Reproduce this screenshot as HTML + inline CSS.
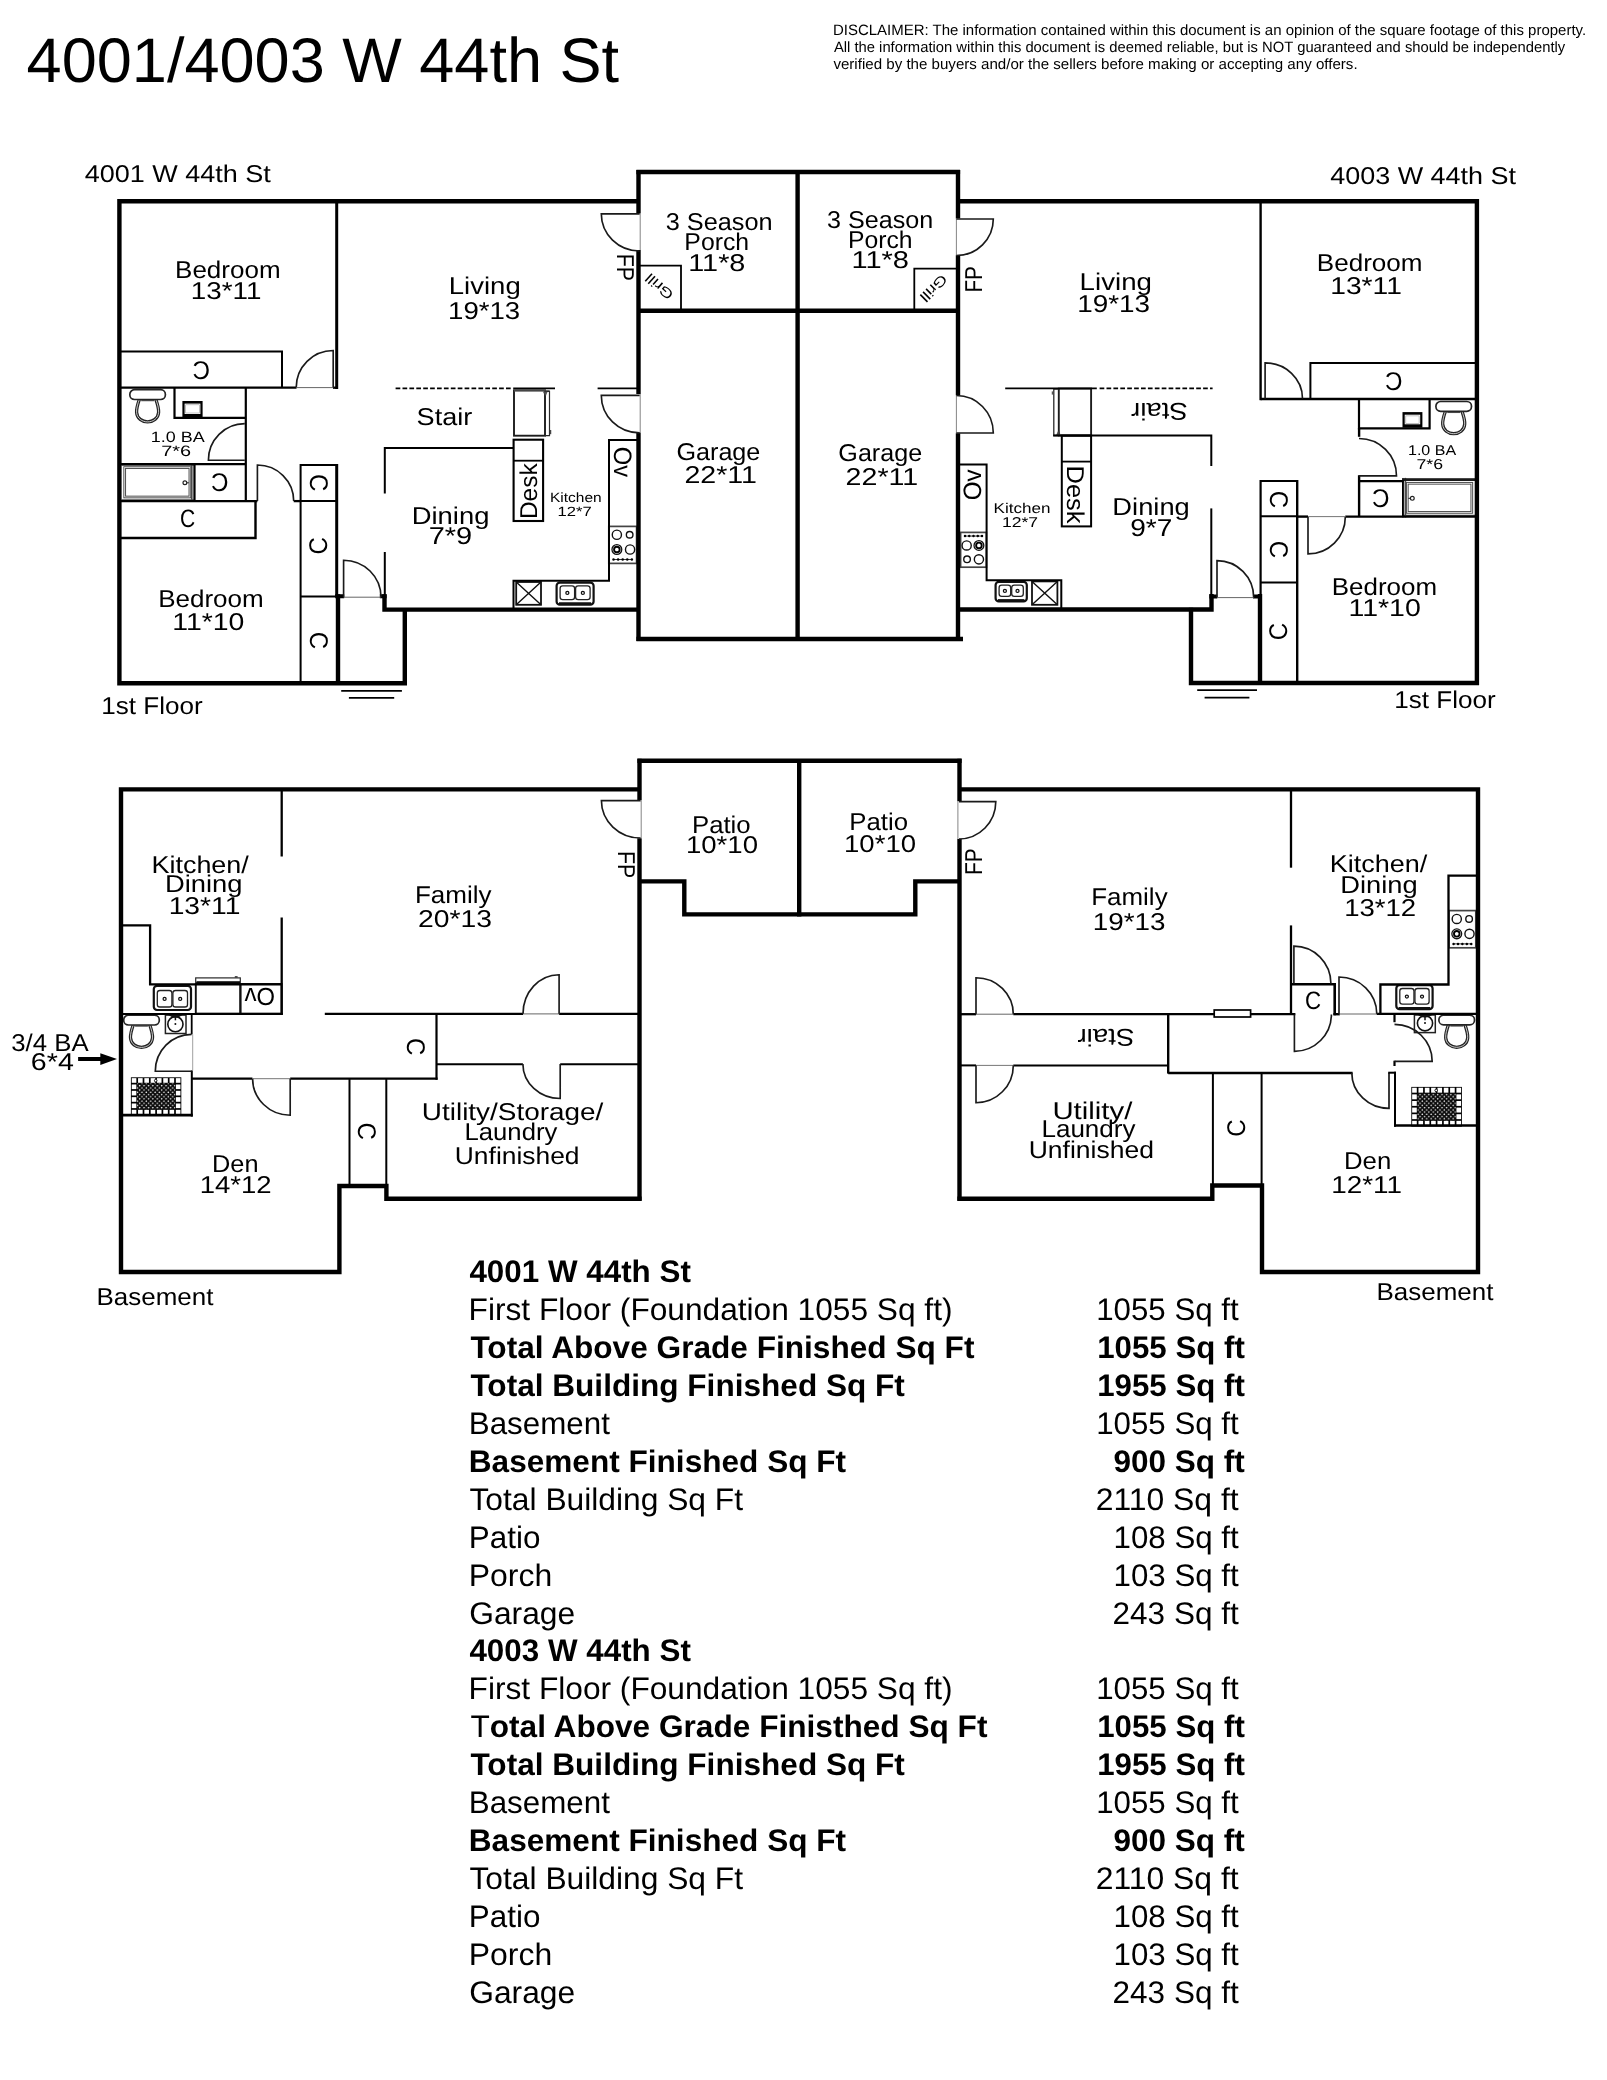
<!DOCTYPE html>
<html><head><meta charset="utf-8"><title>4001/4003 W 44th St</title>
<style>
html,body{margin:0;padding:0;background:#fff}
body{width:1607px;height:2080px;overflow:hidden;font-family:"Liberation Sans",sans-serif}
svg{display:block}
text{font-family:"Liberation Sans",sans-serif;text-rendering:geometricPrecision}
svg{will-change:transform}
</style></head><body>
<svg width="1607" height="2080" viewBox="0 0 1607 2080">
<rect width="1607" height="2080" fill="#fff"/>
<g font-family="'Liberation Sans', sans-serif" fill="#000">
<text transform="translate(26.60 82.2) scale(1.0010 1)" font-size="63">4001/4003 W 44th St</text>
<text transform="translate(832.90 34.6) scale(0.9989 1)" font-size="15">DISCLAIMER: The information contained within this document is an opinion of the square footage of this property.</text>
<text transform="translate(833.90 52.1) scale(0.9858 1)" font-size="15">All the information within this document is deemed reliable, but is NOT guaranteed and should be independently</text>
<text transform="translate(833.40 68.9) scale(1.0064 1)" font-size="15">verified by the buyers and/or the sellers before making or accepting any offers.</text>
<text transform="translate(469.40 1282.0) scale(1.0062 1)" font-size="31.2" font-weight="bold">4001 W 44th St</text>
<text transform="translate(468.57 1320.0) scale(1.0152 1)" font-size="31.2">First Floor (Foundation 1055 Sq ft)</text>
<text transform="translate(1096.20 1320.0) scale(1.0020 1)" font-size="31.2">1055 Sq ft</text>
<text transform="translate(470.40 1358.0) scale(1.0135 1)" font-size="31.2" font-weight="bold">Total Above Grade Finished Sq Ft</text>
<text transform="translate(1097.20 1358.0) scale(1.0017 1)" font-size="31.2" font-weight="bold">1055 Sq ft</text>
<text transform="translate(470.40 1395.9) scale(1.0126 1)" font-size="31.2" font-weight="bold">Total Building Finished Sq Ft</text>
<text transform="translate(1097.20 1395.9) scale(1.0017 1)" font-size="31.2" font-weight="bold">1955 Sq ft</text>
<text transform="translate(468.79 1433.9) scale(1.0046 1)" font-size="31.2">Basement</text>
<text transform="translate(1096.20 1433.9) scale(1.0020 1)" font-size="31.2">1055 Sq ft</text>
<text transform="translate(468.77 1471.9) scale(1.0127 1)" font-size="31.2" font-weight="bold">Basement Finished Sq Ft</text>
<text transform="translate(1113.39 1471.9) scale(1.0109 1)" font-size="31.2" font-weight="bold">900 Sq ft</text>
<text transform="translate(469.50 1509.9) scale(1.0181 1)" font-size="31.2">Total Building Sq Ft</text>
<text transform="translate(1095.68 1509.9) scale(1.0222 1)" font-size="31.2">2110 Sq ft</text>
<text transform="translate(468.79 1547.9) scale(1.0067 1)" font-size="31.2">Patio</text>
<text transform="translate(1113.60 1547.9) scale(1.0018 1)" font-size="31.2">108 Sq ft</text>
<text transform="translate(468.75 1585.8) scale(1.0240 1)" font-size="31.2">Porch</text>
<text transform="translate(1113.60 1585.8) scale(1.0018 1)" font-size="31.2">103 Sq ft</text>
<text transform="translate(469.18 1623.8) scale(1.0189 1)" font-size="31.2">Garage</text>
<text transform="translate(1112.59 1623.8) scale(1.0099 1)" font-size="31.2">243 Sq ft</text>
<text transform="translate(469.40 1661.2) scale(1.0062 1)" font-size="31.2" font-weight="bold">4003 W 44th St</text>
<text transform="translate(468.57 1699.2) scale(1.0152 1)" font-size="31.2">First Floor (Foundation 1055 Sq ft)</text>
<text transform="translate(1096.20 1699.2) scale(1.0020 1)" font-size="31.2">1055 Sq ft</text>
<text transform="translate(470.40 1737.2) scale(1.0138 1)" font-size="31.2" font-weight="bold"><tspan font-weight="normal">T</tspan>otal Above Grade Finisthed Sq Ft</text>
<text transform="translate(1097.20 1737.2) scale(1.0017 1)" font-size="31.2" font-weight="bold">1055 Sq ft</text>
<text transform="translate(470.40 1775.1) scale(1.0126 1)" font-size="31.2" font-weight="bold">Total Building Finished Sq Ft</text>
<text transform="translate(1097.20 1775.1) scale(1.0017 1)" font-size="31.2" font-weight="bold">1955 Sq ft</text>
<text transform="translate(468.79 1813.1) scale(1.0046 1)" font-size="31.2">Basement</text>
<text transform="translate(1096.20 1813.1) scale(1.0020 1)" font-size="31.2">1055 Sq ft</text>
<text transform="translate(468.77 1851.1) scale(1.0127 1)" font-size="31.2" font-weight="bold">Basement Finished Sq Ft</text>
<text transform="translate(1113.39 1851.1) scale(1.0109 1)" font-size="31.2" font-weight="bold">900 Sq ft</text>
<text transform="translate(469.50 1889.1) scale(1.0181 1)" font-size="31.2">Total Building Sq Ft</text>
<text transform="translate(1095.68 1889.1) scale(1.0222 1)" font-size="31.2">2110 Sq ft</text>
<text transform="translate(468.79 1927.1) scale(1.0067 1)" font-size="31.2">Patio</text>
<text transform="translate(1113.60 1927.1) scale(1.0018 1)" font-size="31.2">108 Sq ft</text>
<text transform="translate(468.75 1965.0) scale(1.0240 1)" font-size="31.2">Porch</text>
<text transform="translate(1113.60 1965.0) scale(1.0018 1)" font-size="31.2">103 Sq ft</text>
<text transform="translate(469.18 2003.0) scale(1.0189 1)" font-size="31.2">Garage</text>
<text transform="translate(1112.59 2003.0) scale(1.0099 1)" font-size="31.2">243 Sq ft</text>
</g>
<g font-family="'Liberation Sans', sans-serif" fill="#000" id="lbl">
<text transform="translate(84.70 182.4) scale(1.1113 1)" font-size="24.3">4001 W 44th St</text>
<text transform="translate(1330.20 184.3) scale(1.1095 1)" font-size="24.3">4003 W 44th St</text>
<text transform="translate(101.33 714.1) scale(1.0725 1)" font-size="24.3">1st Floor</text>
<text transform="translate(1394.23 707.5) scale(1.0725 1)" font-size="24.3">1st Floor</text>
<text transform="translate(96.56 1304.5) scale(1.0683 1)" font-size="24.3">Basement</text>
<text transform="translate(1376.56 1300.2) scale(1.0683 1)" font-size="24.3">Basement</text>
<text transform="translate(175.06 277.7) scale(1.0698 1)" font-size="24.3">Bedroom</text>
<text transform="translate(190.86 299.1) scale(1.1447 1)" font-size="24.3">13*11</text>
<text transform="translate(448.73 294.0) scale(1.1339 1)" font-size="24.3">Living</text>
<text transform="translate(448.06 318.5) scale(1.1356 1)" font-size="24.3">19*13</text>
<text transform="translate(665.70 230.3) scale(1.0410 1)" font-size="24.3">3 Season</text>
<text transform="translate(684.36 250.2) scale(1.0207 1)" font-size="24.3">Porch</text>
<text transform="translate(688.21 271.3) scale(1.1869 1)" font-size="24.3">11*8</text>
<text transform="translate(416.59 424.8) scale(1.1132 1)" font-size="24.3">Stair</text>
<text transform="translate(411.75 524.3) scale(1.1275 1)" font-size="24.3">Dining</text>
<text transform="translate(428.71 544.4) scale(1.1925 1)" font-size="24.3">7*9</text>
<text transform="translate(158.16 607.1) scale(1.0708 1)" font-size="24.3">Bedroom</text>
<text transform="translate(172.23 629.5) scale(1.1696 1)" font-size="24.3">11*10</text>
<text transform="translate(676.47 460.0) scale(1.0349 1)" font-size="24.3">Garage</text>
<text transform="translate(684.42 483.0) scale(1.1763 1)" font-size="24.3">22*11</text>
<text transform="translate(550.04 502.1) scale(1.1570 1)" font-size="13.4">Kitchen</text>
<text transform="translate(557.56 516.1) scale(1.2411 1)" font-size="13.4">12*7</text>
<text transform="translate(150.70 442.1) scale(1.1971 1)" font-size="15">1.0 BA</text>
<text transform="translate(161.20 456.1) scale(1.3255 1)" font-size="15">7*6</text>
<text transform="translate(179.96 527.3) scale(0.8353 1)" font-size="25.2">C</text>
<text transform="translate(827.00 227.6) scale(1.0340 1)" font-size="24.3">3 Season</text>
<text transform="translate(847.97 247.5) scale(1.0174 1)" font-size="24.3">Porch</text>
<text transform="translate(851.40 268.0) scale(1.1954 1)" font-size="24.3">11*8</text>
<text transform="translate(1079.62 290.4) scale(1.1389 1)" font-size="24.3">Living</text>
<text transform="translate(1077.15 312.0) scale(1.1469 1)" font-size="24.3">19*13</text>
<text transform="translate(1316.86 271.4) scale(1.0719 1)" font-size="24.3">Bedroom</text>
<text transform="translate(1330.24 293.5) scale(1.1613 1)" font-size="24.3">13*11</text>
<text transform="translate(838.37 461.3) scale(1.0336 1)" font-size="24.3">Garage</text>
<text transform="translate(845.62 485.2) scale(1.1763 1)" font-size="24.3">22*11</text>
<text transform="translate(993.60 512.9) scale(1.2018 1)" font-size="14.2">Kitchen</text>
<text transform="translate(1001.96 527.3) scale(1.2367 1)" font-size="14.2">12*7</text>
<text transform="translate(1112.35 514.6) scale(1.1244 1)" font-size="24.3">Dining</text>
<text transform="translate(1130.24 535.8) scale(1.1553 1)" font-size="24.3">9*7</text>
<text transform="translate(1407.97 455.3) scale(1.1299 1)" font-size="14.2">1.0 BA</text>
<text transform="translate(1416.50 468.9) scale(1.2470 1)" font-size="14.2">7*6</text>
<text transform="translate(1331.76 594.8) scale(1.0677 1)" font-size="24.3">Bedroom</text>
<text transform="translate(1348.43 615.8) scale(1.1729 1)" font-size="24.3">11*10</text>
<text transform="translate(151.48 873.0) scale(1.1088 1)" font-size="24.3">Kitchen/</text>
<text transform="translate(164.95 892.3) scale(1.1259 1)" font-size="24.3">Dining</text>
<text transform="translate(168.64 914.1) scale(1.1630 1)" font-size="24.3">13*11</text>
<text transform="translate(414.96 902.9) scale(1.0712 1)" font-size="24.3">Family</text>
<text transform="translate(417.94 926.5) scale(1.1646 1)" font-size="24.3">20*13</text>
<text transform="translate(691.98 832.6) scale(1.0593 1)" font-size="24.3">Patio</text>
<text transform="translate(685.97 853.3) scale(1.1340 1)" font-size="24.3">10*10</text>
<text transform="translate(849.28 829.6) scale(1.0593 1)" font-size="24.3">Patio</text>
<text transform="translate(844.07 852) scale(1.1324 1)" font-size="24.3">10*10</text>
<text transform="translate(11.30 1050.9) scale(1.0592 1)" font-size="24.3">3/4 BA</text>
<text transform="translate(30.82 1070.2) scale(1.1782 1)" font-size="24.3">6*4</text>
<text transform="translate(212.02 1171.8) scale(1.0424 1)" font-size="24.3">Den</text>
<text transform="translate(199.67 1192.9) scale(1.1324 1)" font-size="24.3">14*12</text>
<text transform="translate(421.85 1119.9) scale(1.1486 1)" font-size="24.3">Utility/Storage/</text>
<text transform="translate(464.49 1140.0) scale(1.0571 1)" font-size="24.3">Laundry</text>
<text transform="translate(454.81 1163.5) scale(1.0864 1)" font-size="24.3">Unfinished</text>
<text transform="translate(1091.27 905.0) scale(1.0669 1)" font-size="24.3">Family</text>
<text transform="translate(1092.75 929.6) scale(1.1453 1)" font-size="24.3">19*13</text>
<text transform="translate(1329.78 872.2) scale(1.1111 1)" font-size="24.3">Kitchen/</text>
<text transform="translate(1340.25 893.0) scale(1.1244 1)" font-size="24.3">Dining</text>
<text transform="translate(1344.17 916.2) scale(1.1340 1)" font-size="24.3">13*12</text>
<text transform="translate(1052.39 1118.5) scale(1.2081 1)" font-size="24.3">Utility/</text>
<text transform="translate(1041.46 1137.4) scale(1.0709 1)" font-size="24.3">Laundry</text>
<text transform="translate(1028.71 1158.4) scale(1.0909 1)" font-size="24.3">Unfinished</text>
<text transform="translate(1343.98 1169.2) scale(1.0594 1)" font-size="24.3">Den</text>
<text transform="translate(1331.25 1193.0) scale(1.1464 1)" font-size="24.3">12*11</text>
<text transform="translate(1304.92 1008.8) scale(0.8824 1)" font-size="25.2">C</text>
<text transform="translate(616.60 253.66) rotate(90) scale(0.8710 1)" font-size="24.4">FP</text>
<text transform="translate(981.50 292.60) rotate(-90) scale(0.8495 1)" font-size="24.4">FP</text>
<text transform="translate(617.50 851.05) rotate(90) scale(0.8746 1)" font-size="24.4">FP</text>
<text transform="translate(981.50 875.01) rotate(-90) scale(0.8531 1)" font-size="24.4">FP</text>
<text transform="translate(537.10 519.11) rotate(-90) scale(1.0072 1)" font-size="24.3">Desk</text>
<text transform="translate(1067.00 465.50) rotate(90) scale(1.0478 1)" font-size="24.3">Desk</text>
<text transform="translate(614.00 446.76) rotate(90) scale(0.9433 1)" font-size="25.2">Ov</text>
<text transform="translate(980.80 500.26) rotate(-90) scale(0.9591 1)" font-size="25.2">Ov</text>
<text transform="translate(274.97 988.40) rotate(180) scale(0.9701 1)" font-size="24.6">Ov</text>
<text transform="translate(1187.84 403.40) rotate(180) scale(1.1357 1)" font-size="24.3">Stair</text>
<text transform="translate(1134.44 1029.20) rotate(180) scale(1.1398 1)" font-size="24.3">Stair</text>
<text transform="translate(658.9 287.1) rotate(-138.4) translate(-16.00 5.50) scale(1.2918 1)" font-size="14">Grill</text>
<text transform="translate(934.2 288.6) rotate(135) translate(-16.00 5.50) scale(1.2918 1)" font-size="14">Grill</text>
<text transform="translate(219.8 482.2) rotate(0) scale(-0.94 1)" x="-9.3" y="8.9" font-size="25.6">C</text>
<text transform="translate(201.3 369.6) rotate(0) scale(-0.94 1)" x="-9.3" y="8.9" font-size="25.6">C</text>
<text transform="translate(318.5 482.8) rotate(90) scale(0.94 1)" x="-9.3" y="8.9" font-size="25.6">C</text>
<text transform="translate(318.5 545.8) rotate(-90) scale(0.94 1)" x="-9.3" y="8.9" font-size="25.6">C</text>
<text transform="translate(318.5 640.4) rotate(90) scale(0.94 1)" x="-9.3" y="8.9" font-size="25.6">C</text>
<text transform="translate(1393.8 381) rotate(0) scale(-0.94 1)" x="-9.3" y="8.9" font-size="25.6">C</text>
<text transform="translate(1380.8 497.9) rotate(0) scale(-0.94 1)" x="-9.3" y="8.9" font-size="25.6">C</text>
<text transform="translate(1278.5 499.6) rotate(90) scale(0.94 1)" x="-9.3" y="8.9" font-size="25.6">C</text>
<text transform="translate(1278.5 549.4) rotate(90) scale(0.94 1)" x="-9.3" y="8.9" font-size="25.6">C</text>
<text transform="translate(1278.5 631.6) rotate(-90) scale(0.94 1)" x="-9.3" y="8.9" font-size="25.6">C</text>
<text transform="translate(415.8 1046.7) rotate(90) scale(0.94 1)" x="-9.3" y="8.9" font-size="25.6">C</text>
<text transform="translate(366.6 1131.3) rotate(90) scale(0.94 1)" x="-9.3" y="8.9" font-size="25.6">C</text>
<text transform="translate(1236.3 1128.1) rotate(-90) scale(0.94 1)" x="-9.3" y="8.9" font-size="25.6">C</text>
</g>
<g id="fx">
<g transform="translate(147.6 388.8)">
<path d="M-8.2 10.4C-9.8 15 -11.3 19.5 -11 23.6C-10.6 29.6 -5.4 33.1 0 33.1C5.4 33.1 10.6 29.6 11 23.6C11.3 19.5 9.8 15 8.2 10.4" stroke="#242424" stroke-width="3.3" fill="#fff"/>
<path d="M-8.2 10.4C-9.8 15 -11.3 19.5 -11 23.6C-10.6 29.6 -5.4 33.1 0 33.1C5.4 33.1 10.6 29.6 11 23.6C11.3 19.5 9.8 15 8.2 10.4" stroke="#fff" stroke-width="0.75" fill="none"/>
<path d="M-6.4 11.7H6.4" stroke="#555" stroke-width="1.5"/>
<rect x="-17.8" y="0.9" width="35.6" height="9.8" rx="4.7" stroke="#242424" stroke-width="1.7" fill="#fff"/>
</g>
<g transform="translate(1453.7 400.6)">
<path d="M-8.2 10.4C-9.8 15 -11.3 19.5 -11 23.6C-10.6 29.6 -5.4 33.1 0 33.1C5.4 33.1 10.6 29.6 11 23.6C11.3 19.5 9.8 15 8.2 10.4" stroke="#242424" stroke-width="3.3" fill="#fff"/>
<path d="M-8.2 10.4C-9.8 15 -11.3 19.5 -11 23.6C-10.6 29.6 -5.4 33.1 0 33.1C5.4 33.1 10.6 29.6 11 23.6C11.3 19.5 9.8 15 8.2 10.4" stroke="#fff" stroke-width="0.75" fill="none"/>
<path d="M-6.4 11.7H6.4" stroke="#555" stroke-width="1.5"/>
<rect x="-17.8" y="0.9" width="35.6" height="9.8" rx="4.7" stroke="#242424" stroke-width="1.7" fill="#fff"/>
</g>
<g transform="translate(141.5 1014.3)">
<path d="M-8.2 10.4C-9.8 15 -11.3 19.5 -11 23.6C-10.6 29.6 -5.4 33.1 0 33.1C5.4 33.1 10.6 29.6 11 23.6C11.3 19.5 9.8 15 8.2 10.4" stroke="#242424" stroke-width="3.3" fill="#fff"/>
<path d="M-8.2 10.4C-9.8 15 -11.3 19.5 -11 23.6C-10.6 29.6 -5.4 33.1 0 33.1C5.4 33.1 10.6 29.6 11 23.6C11.3 19.5 9.8 15 8.2 10.4" stroke="#fff" stroke-width="0.75" fill="none"/>
<path d="M-6.4 11.7H6.4" stroke="#555" stroke-width="1.5"/>
<rect x="-17.8" y="0.9" width="35.6" height="9.8" rx="4.7" stroke="#242424" stroke-width="1.7" fill="#fff"/>
</g>
<g transform="translate(1456.7 1014.2)">
<path d="M-8.2 10.4C-9.8 15 -11.3 19.5 -11 23.6C-10.6 29.6 -5.4 33.1 0 33.1C5.4 33.1 10.6 29.6 11 23.6C11.3 19.5 9.8 15 8.2 10.4" stroke="#242424" stroke-width="3.3" fill="#fff"/>
<path d="M-8.2 10.4C-9.8 15 -11.3 19.5 -11 23.6C-10.6 29.6 -5.4 33.1 0 33.1C5.4 33.1 10.6 29.6 11 23.6C11.3 19.5 9.8 15 8.2 10.4" stroke="#fff" stroke-width="0.75" fill="none"/>
<path d="M-6.4 11.7H6.4" stroke="#555" stroke-width="1.5"/>
<rect x="-17.8" y="0.9" width="35.6" height="9.8" rx="4.7" stroke="#242424" stroke-width="1.7" fill="#fff"/>
</g>
<rect x="182.4" y="401" width="20.2" height="16.4" rx="0" stroke="#000" stroke-width="0" fill="#000"/>
<rect x="184.6" y="403.6" width="15.8" height="10.4" rx="0" stroke="#000" stroke-width="0" fill="#fff"/>
<rect x="185.70000000000002" y="404.8" width="13.6" height="8.2" rx="0" stroke="#999" stroke-width="0.6" fill="none"/>
<rect x="1402.5" y="412.1" width="19.9" height="15.6" rx="0" stroke="#000" stroke-width="0" fill="#000"/>
<rect x="1404.7" y="414.70000000000005" width="15.5" height="9.6" rx="0" stroke="#000" stroke-width="0" fill="#fff"/>
<rect x="1405.8" y="415.90000000000003" width="13.3" height="7.4" rx="0" stroke="#999" stroke-width="0.6" fill="none"/>
<rect x="121.5" y="463.4" width="73.5" height="38.6" rx="0" stroke="#000" stroke-width="0" fill="#fff"/>
<rect x="191.1" y="463.4" width="3.9" height="38.6" rx="0" stroke="#000" stroke-width="0" fill="#c4c4c4"/>
<path d="M191.7 463.4L191.7 502" stroke="#4d4d4d" stroke-width="1.4" fill="none" />
<path d="M194.3 463.4L194.3 502" stroke="#4d4d4d" stroke-width="1.4" fill="none" />
<path d="M121.5 465.0L195.0 465.0" stroke="#4d4d4d" stroke-width="1.6" fill="none" />
<path d="M121.5 500.1L195.0 500.1" stroke="#4d4d4d" stroke-width="1.6" fill="none" />
<rect x="124.7" y="467.59999999999997" width="65.2" height="29.4" rx="0" stroke="#4d4d4d" stroke-width="2.7" fill="#fff"/>
<rect x="124.7" y="467.59999999999997" width="65.2" height="29.4" rx="0" stroke="#fff" stroke-width="0.7" fill="none"/>
<circle cx="184.9" cy="482.79999999999995" r="1.9" stroke="#222" stroke-width="1.2" fill="#fff"/>
<path d="M186.8 482.79999999999995L188.9 482.79999999999995" stroke="#222" stroke-width="1" fill="none" />
<rect x="1402.2" y="477.9" width="72.8" height="39.5" rx="0" stroke="#000" stroke-width="0" fill="#fff"/>
<rect x="1402.2" y="477.9" width="3.9" height="39.5" rx="0" stroke="#000" stroke-width="0" fill="#c4c4c4"/>
<path d="M1405.5 477.9L1405.5 517.4" stroke="#4d4d4d" stroke-width="1.4" fill="none" />
<path d="M1402.9 477.9L1402.9 517.4" stroke="#4d4d4d" stroke-width="1.4" fill="none" />
<path d="M1402.2 479.5L1475 479.5" stroke="#4d4d4d" stroke-width="1.6" fill="none" />
<path d="M1402.2 515.5L1475 515.5" stroke="#4d4d4d" stroke-width="1.6" fill="none" />
<rect x="1407.3" y="483.3" width="64.5" height="29.1" rx="0" stroke="#4d4d4d" stroke-width="2.7" fill="#fff"/>
<rect x="1407.3" y="483.3" width="64.5" height="29.1" rx="0" stroke="#fff" stroke-width="0.7" fill="none"/>
<circle cx="1412.3" cy="498.35" r="1.9" stroke="#222" stroke-width="1.2" fill="#fff"/>
<path d="M1410.3999999999999 498.35L1408.3 498.35" stroke="#222" stroke-width="1" fill="none" />
<path d="M1402.2 479.6L1475 479.6" stroke="#1a1a1a" stroke-width="2.6" fill="none" />
<rect x="608.8" y="526.4" width="27.8" height="37.0" rx="0" stroke="#444" stroke-width="1.7" fill="#fff"/>
<circle cx="616.86" cy="534.73" r="4.6" stroke="#111" stroke-width="1.4" fill="none"/>
<circle cx="629.65" cy="534.73" r="3.3" stroke="#111" stroke-width="1.4" fill="none"/>
<circle cx="616.86" cy="549.52" r="4.9" stroke="#111" stroke-width="1.3" fill="none"/>
<circle cx="616.86" cy="549.52" r="2.8" stroke="#000" stroke-width="1.9" fill="none"/>
<circle cx="630.07" cy="549.52" r="4.6" stroke="#111" stroke-width="1.4" fill="none"/>
<path d="M613.53 559.51L631.87 559.51" stroke="#222" stroke-width="0.9" fill="none" />
<circle cx="613.53" cy="559.51" r="1.25" stroke="#000" stroke-width="0" fill="#000"/>
<circle cx="618.12" cy="559.51" r="1.25" stroke="#000" stroke-width="0" fill="#000"/>
<circle cx="622.7" cy="559.51" r="1.25" stroke="#000" stroke-width="0" fill="#000"/>
<circle cx="627.28" cy="559.51" r="1.25" stroke="#000" stroke-width="0" fill="#000"/>
<circle cx="631.87" cy="559.51" r="1.25" stroke="#000" stroke-width="0" fill="#000"/>
<rect x="960.6" y="532.4" width="25.8" height="34.8" rx="0" stroke="#444" stroke-width="1.7" fill="#fff"/>
<circle cx="978.92" cy="559.37" r="4.6" stroke="#111" stroke-width="1.4" fill="none"/>
<circle cx="967.05" cy="559.37" r="3.3" stroke="#111" stroke-width="1.4" fill="none"/>
<circle cx="978.92" cy="545.45" r="4.9" stroke="#111" stroke-width="1.3" fill="none"/>
<circle cx="978.92" cy="545.45" r="2.8" stroke="#000" stroke-width="1.9" fill="none"/>
<circle cx="966.66" cy="545.45" r="4.6" stroke="#111" stroke-width="1.4" fill="none"/>
<path d="M982.01 536.05L964.99 536.05" stroke="#222" stroke-width="0.9" fill="none" />
<circle cx="982.01" cy="536.05" r="1.25" stroke="#000" stroke-width="0" fill="#000"/>
<circle cx="977.75" cy="536.05" r="1.25" stroke="#000" stroke-width="0" fill="#000"/>
<circle cx="973.5" cy="536.05" r="1.25" stroke="#000" stroke-width="0" fill="#000"/>
<circle cx="969.25" cy="536.05" r="1.25" stroke="#000" stroke-width="0" fill="#000"/>
<circle cx="964.99" cy="536.05" r="1.25" stroke="#000" stroke-width="0" fill="#000"/>
<rect x="1449" y="910.6" width="26.8" height="37.2" rx="0" stroke="#444" stroke-width="1.7" fill="#fff"/>
<circle cx="1456.77" cy="918.97" r="4.6" stroke="#111" stroke-width="1.4" fill="none"/>
<circle cx="1469.1" cy="918.97" r="3.3" stroke="#111" stroke-width="1.4" fill="none"/>
<circle cx="1456.77" cy="933.85" r="4.9" stroke="#111" stroke-width="1.3" fill="none"/>
<circle cx="1456.77" cy="933.85" r="2.8" stroke="#000" stroke-width="1.9" fill="none"/>
<circle cx="1469.5" cy="933.85" r="4.6" stroke="#111" stroke-width="1.4" fill="none"/>
<path d="M1453.56 943.89L1471.24 943.89" stroke="#222" stroke-width="0.9" fill="none" />
<circle cx="1453.56" cy="943.89" r="1.25" stroke="#000" stroke-width="0" fill="#000"/>
<circle cx="1457.98" cy="943.89" r="1.25" stroke="#000" stroke-width="0" fill="#000"/>
<circle cx="1462.4" cy="943.89" r="1.25" stroke="#000" stroke-width="0" fill="#000"/>
<circle cx="1466.82" cy="943.89" r="1.25" stroke="#000" stroke-width="0" fill="#000"/>
<circle cx="1471.24" cy="943.89" r="1.25" stroke="#000" stroke-width="0" fill="#000"/>
<rect x="556.6" y="582.6" width="37.0" height="22.0" rx="3.2" stroke="#111" stroke-width="2.2" fill="#fff"/>
<path d="M559.0 603.3000000000001L591.2 603.3000000000001" stroke="#111" stroke-width="2.0" fill="none" />
<rect x="560.1" y="585.9" width="14.5" height="13.7" rx="2.6" stroke="#222" stroke-width="1.3" fill="none"/>
<rect x="575.6" y="585.9" width="14.5" height="13.7" rx="2.6" stroke="#222" stroke-width="1.3" fill="none"/>
<circle cx="567.35" cy="592.95" r="1.5" stroke="#111" stroke-width="1.3" fill="none"/>
<circle cx="582.85" cy="592.95" r="1.5" stroke="#111" stroke-width="1.3" fill="none"/>
<rect x="995.6" y="581.8" width="31.2" height="19.6" rx="3.2" stroke="#111" stroke-width="2.2" fill="#fff"/>
<path d="M998.0 600.1L1024.3999999999999 600.1" stroke="#111" stroke-width="2.0" fill="none" />
<rect x="999.1" y="585.0999999999999" width="11.6" height="11.3" rx="2.6" stroke="#222" stroke-width="1.3" fill="none"/>
<rect x="1011.7" y="585.0999999999999" width="11.6" height="11.3" rx="2.6" stroke="#222" stroke-width="1.3" fill="none"/>
<circle cx="1004.9" cy="590.95" r="1.5" stroke="#111" stroke-width="1.3" fill="none"/>
<circle cx="1017.5" cy="590.95" r="1.5" stroke="#111" stroke-width="1.3" fill="none"/>
<rect x="153.8" y="985.8" width="37.2" height="24.2" rx="3.2" stroke="#111" stroke-width="2.2" fill="#fff"/>
<rect x="157.3" y="990.5" width="14.6" height="16.5" rx="2.6" stroke="#222" stroke-width="1.3" fill="none"/>
<rect x="172.9" y="990.5" width="14.6" height="16.5" rx="2.6" stroke="#222" stroke-width="1.3" fill="none"/>
<circle cx="164.60000000000002" cy="998.95" r="1.5" stroke="#111" stroke-width="1.3" fill="none"/>
<circle cx="180.2" cy="998.95" r="1.5" stroke="#111" stroke-width="1.3" fill="none"/>
<rect x="1396.3" y="985.2" width="36.3" height="24.0" rx="3.2" stroke="#111" stroke-width="2.2" fill="#fff"/>
<path d="M1398.7 1007.9000000000001L1430.1999999999998 1007.9000000000001" stroke="#111" stroke-width="2.0" fill="none" />
<rect x="1399.8" y="988.5" width="14.15" height="15.7" rx="2.6" stroke="#222" stroke-width="1.3" fill="none"/>
<rect x="1414.9499999999998" y="988.5" width="14.15" height="15.7" rx="2.6" stroke="#222" stroke-width="1.3" fill="none"/>
<circle cx="1406.875" cy="996.5500000000001" r="1.5" stroke="#111" stroke-width="1.3" fill="none"/>
<circle cx="1422.0249999999999" cy="996.5500000000001" r="1.5" stroke="#111" stroke-width="1.3" fill="none"/>
<rect x="516.2" y="582" width="24.8" height="22.8" rx="0" stroke="#111" stroke-width="1.8" fill="#fff"/>
<path d="M516.2 582L541 604.8M541 582L516.2 604.8" stroke="#111" stroke-width="1.4" fill="none" />
<rect x="1032" y="581.4" width="25.4" height="23.4" rx="0" stroke="#111" stroke-width="1.8" fill="#fff"/>
<path d="M1032 581.4L1057.4 604.8M1057.4 581.4L1032 604.8" stroke="#111" stroke-width="1.4" fill="none" />
<rect x="514" y="390.3" width="31" height="45.4" rx="0" stroke="#1c1c1c" stroke-width="1.9" fill="#fff"/>
<path d="M514 390.9L549.6 390.9" stroke="#555" stroke-width="1.4" fill="none" />
<path d="M545 391.4H549.5V435.7H545" stroke="#2a2a2a" stroke-width="1.2" fill="none" />
<path d="M543.4 391.8H547.2L545.4 396.2Z" stroke="#333" stroke-width="0.5" fill="#555" />
<path d="M550.5 430L550.5 434.2" stroke="#444" stroke-width="1.5" fill="none" />
<rect x="1058.8" y="388.6" width="32.3" height="46.9" rx="0" stroke="#1c1c1c" stroke-width="1.9" fill="#fff"/>
<path d="M1058.8 389.2H1053.8V435.5H1058.8" stroke="#2a2a2a" stroke-width="1.3" fill="none" />
<path d="M1056.6 435H1060.2L1058.6 430.6Z" stroke="#333" stroke-width="0.5" fill="#444" />
<path d="M1052.4 391.4L1052.4 394.6" stroke="#555" stroke-width="1.3" fill="none" />
<rect x="195.8" y="984" width="44.6" height="29.6" rx="0" stroke="#111" stroke-width="1.9" fill="#fff"/>
<rect x="240.4" y="984" width="41.2" height="29.6" rx="0" stroke="#111" stroke-width="1.9" fill="none"/>
<rect x="195.7" y="977.9" width="44.6" height="4.5" rx="0" stroke="#2a2a2a" stroke-width="1.2" fill="#fff"/>
<path d="M196.6 983L240 983" stroke="#0a0a0a" stroke-width="3.4" fill="none" />
<path d="M234.8 976.9L237.6 976.9" stroke="#333" stroke-width="1.5" fill="none" />
<rect x="165.4" y="1015.1" width="20.6" height="18.4" rx="0" stroke="#222" stroke-width="1.5" fill="#fff"/>
<circle cx="175.4" cy="1024.2" r="7.6" stroke="#111" stroke-width="1.6" fill="#fff"/>
<path d="M168.20000000000002 1015.1Q175.4 1020.3000000000001 182.6 1015.1Z" stroke="#000" stroke-width="0" fill="#111" />
<path d="M175.4 1017.1L175.4 1020.3000000000001" stroke="#111" stroke-width="1.5" fill="none" />
<circle cx="175.4" cy="1024.0" r="1.0" stroke="#000" stroke-width="0" fill="#111"/>
<rect x="1414.4" y="1015" width="20.9" height="17.6" rx="0" stroke="#222" stroke-width="1.5" fill="#fff"/>
<circle cx="1425" cy="1023.3" r="7.6" stroke="#111" stroke-width="1.6" fill="#fff"/>
<path d="M1417.8 1015Q1425 1020.2 1432.2 1015Z" stroke="#000" stroke-width="0" fill="#111" />
<path d="M1425 1017L1425 1020.2" stroke="#111" stroke-width="1.5" fill="none" />
<circle cx="1425" cy="1023.0999999999999" r="1.0" stroke="#000" stroke-width="0" fill="#111"/>
<defs><pattern id="hx" width="4.4" height="4.4" patternUnits="userSpaceOnUse"><rect width="4.4" height="4.4" fill="#0a0a0a"/><path d="M1.1 0.15L2.05 1.1L1.1 2.05L0.15 1.1ZM3.3 2.35L4.25 3.3L3.3 4.25L2.35 3.3Z" fill="#fff"/></pattern></defs>
<rect x="130.9" y="1077.3" width="50.4" height="38.0" rx="0" stroke="#000" stroke-width="0" fill="#000"/>
<rect x="131.75" y="1078.15" width="4.60" height="4.63" fill="#fff"/>
<rect x="131.75" y="1084.48" width="4.60" height="4.63" fill="#fff"/>
<rect x="131.75" y="1090.82" width="4.60" height="4.63" fill="#fff"/>
<rect x="131.75" y="1097.15" width="4.60" height="4.63" fill="#fff"/>
<rect x="131.75" y="1103.48" width="4.60" height="4.63" fill="#fff"/>
<rect x="131.75" y="1109.82" width="4.60" height="4.63" fill="#fff"/>
<rect x="138.05" y="1078.15" width="4.60" height="4.63" fill="#fff"/>
<rect x="138.05" y="1109.82" width="4.60" height="4.63" fill="#fff"/>
<rect x="144.35" y="1078.15" width="4.60" height="4.63" fill="#fff"/>
<rect x="144.35" y="1109.82" width="4.60" height="4.63" fill="#fff"/>
<rect x="150.65" y="1078.15" width="4.60" height="4.63" fill="#fff"/>
<rect x="150.65" y="1109.82" width="4.60" height="4.63" fill="#fff"/>
<rect x="156.95" y="1078.15" width="4.60" height="4.63" fill="#fff"/>
<rect x="156.95" y="1109.82" width="4.60" height="4.63" fill="#fff"/>
<rect x="163.25" y="1078.15" width="4.60" height="4.63" fill="#fff"/>
<rect x="163.25" y="1109.82" width="4.60" height="4.63" fill="#fff"/>
<rect x="169.55" y="1078.15" width="4.60" height="4.63" fill="#fff"/>
<rect x="169.55" y="1109.82" width="4.60" height="4.63" fill="#fff"/>
<rect x="175.85" y="1078.15" width="4.60" height="4.63" fill="#fff"/>
<rect x="175.85" y="1084.48" width="4.60" height="4.63" fill="#fff"/>
<rect x="175.85" y="1090.82" width="4.60" height="4.63" fill="#fff"/>
<rect x="175.85" y="1097.15" width="4.60" height="4.63" fill="#fff"/>
<rect x="175.85" y="1103.48" width="4.60" height="4.63" fill="#fff"/>
<rect x="175.85" y="1109.82" width="4.60" height="4.63" fill="#fff"/>
<rect x="137.00" y="1083.43" width="38.20" height="25.73" fill="url(#hx)"/>
<circle cx="155.70000000000002" cy="1080.6666666666667" r="1.3" stroke="#000" stroke-width="0.9" fill="#fff"/>
<rect x="1411.3" y="1086.9" width="50.6" height="39.7" rx="0" stroke="#000" stroke-width="0" fill="#000"/>
<rect x="1412.15" y="1087.75" width="4.63" height="4.92" fill="#fff"/>
<rect x="1412.15" y="1094.37" width="4.63" height="4.92" fill="#fff"/>
<rect x="1412.15" y="1100.98" width="4.63" height="4.92" fill="#fff"/>
<rect x="1412.15" y="1107.60" width="4.63" height="4.92" fill="#fff"/>
<rect x="1412.15" y="1114.22" width="4.63" height="4.92" fill="#fff"/>
<rect x="1412.15" y="1120.83" width="4.63" height="4.92" fill="#fff"/>
<rect x="1418.47" y="1087.75" width="4.63" height="4.92" fill="#fff"/>
<rect x="1418.47" y="1120.83" width="4.63" height="4.92" fill="#fff"/>
<rect x="1424.80" y="1087.75" width="4.63" height="4.92" fill="#fff"/>
<rect x="1424.80" y="1120.83" width="4.63" height="4.92" fill="#fff"/>
<rect x="1431.12" y="1087.75" width="4.63" height="4.92" fill="#fff"/>
<rect x="1431.12" y="1120.83" width="4.63" height="4.92" fill="#fff"/>
<rect x="1437.45" y="1087.75" width="4.63" height="4.92" fill="#fff"/>
<rect x="1437.45" y="1120.83" width="4.63" height="4.92" fill="#fff"/>
<rect x="1443.77" y="1087.75" width="4.63" height="4.92" fill="#fff"/>
<rect x="1443.77" y="1120.83" width="4.63" height="4.92" fill="#fff"/>
<rect x="1450.10" y="1087.75" width="4.63" height="4.92" fill="#fff"/>
<rect x="1450.10" y="1120.83" width="4.63" height="4.92" fill="#fff"/>
<rect x="1456.42" y="1087.75" width="4.63" height="4.92" fill="#fff"/>
<rect x="1456.42" y="1094.37" width="4.63" height="4.92" fill="#fff"/>
<rect x="1456.42" y="1100.98" width="4.63" height="4.92" fill="#fff"/>
<rect x="1456.42" y="1107.60" width="4.63" height="4.92" fill="#fff"/>
<rect x="1456.42" y="1114.22" width="4.63" height="4.92" fill="#fff"/>
<rect x="1456.42" y="1120.83" width="4.63" height="4.92" fill="#fff"/>
<rect x="1417.42" y="1093.32" width="38.35" height="26.87" fill="url(#hx)"/>
<circle cx="1436.1999999999998" cy="1090.4083333333335" r="1.3" stroke="#000" stroke-width="0.9" fill="#fff"/>
</g>
<g stroke-linecap="butt" stroke-linejoin="miter">
<path d="M638.5 170V213.5M638.5 250V394M638.5 432.6V641" stroke="#000" stroke-width="4.4" fill="none" />
<path d="M636.4 172H960.1" stroke="#000" stroke-width="4.4" fill="none" />
<path d="M797.6 172V639" stroke="#000" stroke-width="4.4" fill="none" />
<path d="M638.5 310.7H958" stroke="#000" stroke-width="4.4" fill="none" />
<path d="M636.4 639H963" stroke="#000" stroke-width="4.4" fill="none" />
<path d="M958 170V218.6M958 255.2V395.2M958 433.2V641" stroke="#000" stroke-width="4.4" fill="none" />
<path d="M640.2 213.5L640.2 250" stroke="#777" stroke-width="0.9" fill="none" />
<path d="M640.2 394L640.2 432.6" stroke="#777" stroke-width="0.9" fill="none" />
<path d="M956.4 218.6L956.4 255.2" stroke="#777" stroke-width="0.9" fill="none" />
<path d="M956.4 395.2L956.4 433.2" stroke="#777" stroke-width="0.9" fill="none" />
<path d="M640 265.7H681V309.4" stroke="#000" stroke-width="1.8" fill="none" />
<path d="M956.6 268.6H914.3V309.6" stroke="#000" stroke-width="1.8" fill="none" />
<path d="M638.5 201.2H119.4V683.2H404.8V608" stroke="#000" stroke-width="4.4" fill="none" />
<path d="M384.5 594.2V609.6H638.5" stroke="#000" stroke-width="4.4" fill="none" />
<path d="M338 594.2V683" stroke="#000" stroke-width="4.4" fill="none" />
<path d="M335.2 596.2H344.2M379.8 596.2H386.6" stroke="#000" stroke-width="4" fill="none" />
<path d="M336.7 201L336.7 389" stroke="#000" stroke-width="3" fill="none" />
<path d="M120 351.6H282V387.6" stroke="#000" stroke-width="2" fill="none" />
<path d="M120 387.7L296.5 387.7" stroke="#000" stroke-width="2.3" fill="none" />
<path d="M333 387.7L338 387.7" stroke="#000" stroke-width="2.3" fill="none" />
<path d="M245.8 387.7L245.8 502" stroke="#000" stroke-width="2.2" fill="none" />
<path d="M174.5 388V417.8H245.8" stroke="#000" stroke-width="2.2" fill="none" />
<path d="M120 464.1L246 464.1" stroke="#000" stroke-width="2.2" fill="none" />
<path d="M194.6 464L194.6 501" stroke="#000" stroke-width="2" fill="none" />
<path d="M120 501.1L257.4 501.1" stroke="#000" stroke-width="2.3" fill="none" />
<path d="M293.7 501.1L301 501.1" stroke="#000" stroke-width="2.3" fill="none" />
<path d="M255.5 501V538H120" stroke="#000" stroke-width="2.4" fill="none" />
<path d="M300.6 683V465H336.7" stroke="#000" stroke-width="2" fill="none" />
<path d="M336.7 464L336.7 597" stroke="#000" stroke-width="3" fill="none" />
<path d="M300.6 501.1L336.7 501.1" stroke="#000" stroke-width="2" fill="none" />
<path d="M300.6 596.4L336.7 596.4" stroke="#000" stroke-width="2" fill="none" />
<path d="M395.6 388.4L512 388.4" stroke="#000" stroke-width="1.7" fill="none" stroke-dasharray="4.7 2.2"/>
<path d="M513.2 388.4L555 388.4" stroke="#000" stroke-width="1.8" fill="none" />
<path d="M597.6 388.4L637 388.4" stroke="#000" stroke-width="1.8" fill="none" />
<path d="M384.8 493.5V447.9H513.5" stroke="#000" stroke-width="2" fill="none" />
<path d="M384.8 552L384.8 595" stroke="#000" stroke-width="2" fill="none" />
<rect x="513.6" y="439.7" width="29.5" height="81.3" rx="0" stroke="#000" stroke-width="2.1" fill="none"/>
<path d="M513.6 460.7L543.1 460.7" stroke="#000" stroke-width="1.8" fill="none" />
<path d="M637 440.1H609V580.7H513.5V608" stroke="#000" stroke-width="2" fill="none" />
<path d="M333.2 387.6L333.2 350.5A37.00 37.10 0 0 0 296.20 387.60" stroke="#1a1a1a" stroke-width="1.65" fill="none"/>
<path d="M333.2 387.6L296.20 387.60" stroke="#555" stroke-width="0.9" fill="none"/>
<path d="M244.8 460.2L208.4 460.2A36.40 36.60 0 0 1 244.80 423.60" stroke="#1a1a1a" stroke-width="1.65" fill="none"/>
<path d="M257.4 501L257.4 465A36.30 36.00 0 0 1 293.70 501.00" stroke="#1a1a1a" stroke-width="1.65" fill="none"/>
<path d="M343.6 597.2L343.6 560.2A37.40 37.00 0 0 1 381.00 597.20" stroke="#1a1a1a" stroke-width="1.65" fill="none"/>
<path d="M343.6 597.2L381.00 597.20" stroke="#555" stroke-width="0.9" fill="none"/>
<path d="M639.6 213.8L601.3 213.8A38.30 37.20 0 0 0 639.60 251.00" stroke="#1a1a1a" stroke-width="1.65" fill="none"/>
<path d="M639.6 395.4L601.3 395.4A38.30 37.40 0 0 0 639.60 432.80" stroke="#1a1a1a" stroke-width="1.65" fill="none"/>
<path d="M341.2 690.9L401.9 690.9" stroke="#000" stroke-width="1.8" fill="none" />
<path d="M348.9 697.9L394.2 697.9" stroke="#000" stroke-width="1.8" fill="none" />
<path d="M958 201.2H1476.9V683H1191V607.8" stroke="#000" stroke-width="4.4" fill="none" />
<path d="M958 609.5H1211.5V594" stroke="#000" stroke-width="4.4" fill="none" />
<path d="M1260 594V682.8" stroke="#000" stroke-width="4.4" fill="none" />
<path d="M1209.4 596.4H1217.2M1253 596.4H1262" stroke="#000" stroke-width="4" fill="none" />
<path d="M1260.6 201L1260.6 400.2" stroke="#000" stroke-width="2.4" fill="none" />
<path d="M1260.6 399L1476 399" stroke="#000" stroke-width="2.4" fill="none" />
<path d="M1476 362.9H1310.4V399" stroke="#000" stroke-width="2" fill="none" />
<path d="M1359 399V428.4H1429.6V399" stroke="#000" stroke-width="2.2" fill="none" />
<path d="M1359.1 428L1359.1 436.8" stroke="#000" stroke-width="2.4" fill="none" />
<path d="M1359.1 475.2V517" stroke="#000" stroke-width="2.4" fill="none" />
<path d="M1359 481.2L1403.6 481.2" stroke="#000" stroke-width="2.3" fill="none" />
<path d="M1402.9 481L1402.9 516.3" stroke="#000" stroke-width="1.8" fill="none" />
<path d="M1297 516.6L1308 516.6" stroke="#000" stroke-width="2.4" fill="none" />
<path d="M1345.3 516.6L1476 516.6" stroke="#000" stroke-width="2.4" fill="none" />
<path d="M1308 516.6L1345.3 516.6" stroke="#666" stroke-width="0.9" fill="none" />
<path d="M1260.6 682V481H1297.2" stroke="#000" stroke-width="2.2" fill="none" />
<path d="M1297.2 480L1297.2 682.8" stroke="#000" stroke-width="2.4" fill="none" />
<path d="M1260.6 516.3L1297.2 516.3" stroke="#000" stroke-width="2" fill="none" />
<path d="M1260.6 582.5L1297.2 582.5" stroke="#000" stroke-width="2" fill="none" />
<path d="M1005.2 388.4L1096.8 388.4" stroke="#000" stroke-width="1.8" fill="none" />
<path d="M1099.6 388.4L1212.6 388.4" stroke="#000" stroke-width="1.7" fill="none" stroke-dasharray="4.7 2.2"/>
<path d="M1053.2 435.6H1211.3V466" stroke="#000" stroke-width="2" fill="none" />
<path d="M1211.3 508.4L1211.3 595" stroke="#000" stroke-width="2" fill="none" />
<rect x="1061.8" y="435.6" width="29.3" height="90.8" rx="0" stroke="#000" stroke-width="2" fill="none"/>
<path d="M1061.8 461.6L1091.1 461.6" stroke="#000" stroke-width="1.8" fill="none" />
<path d="M960 464.6H986.6V580.2H1061.3V608" stroke="#000" stroke-width="2" fill="none" />
<path d="M956.4 219L993.3 219A36.90 36.50 0 0 1 956.40 255.50" stroke="#1a1a1a" stroke-width="1.65" fill="none"/>
<path d="M956.4 433L993.3 433A36.90 37.50 0 0 0 956.40 395.50" stroke="#1a1a1a" stroke-width="1.65" fill="none"/>
<path d="M1265.1 398.5L1265.1 362.9A37.40 35.60 0 0 1 1302.50 398.50" stroke="#1a1a1a" stroke-width="1.65" fill="none"/>
<path d="M1359 475.9L1396.5 475.9A37.50 37.40 0 0 0 1359.00 438.50" stroke="#1a1a1a" stroke-width="1.65" fill="none"/>
<path d="M1308 517L1308 553.9A37.30 36.90 0 0 0 1345.30 517.00" stroke="#1a1a1a" stroke-width="1.65" fill="none"/>
<path d="M1217 597.6L1217 560.6A36.70 37.00 0 0 1 1253.70 597.60" stroke="#1a1a1a" stroke-width="1.65" fill="none"/>
<path d="M1217 597.6L1253.70 597.60" stroke="#555" stroke-width="0.9" fill="none"/>
<path d="M1197.2 690.2L1257 690.2" stroke="#000" stroke-width="1.8" fill="none" />
<path d="M1204.6 697.6L1249.4 697.6" stroke="#000" stroke-width="1.8" fill="none" />
<path d="M639.5 758.7V800M639.5 838.3V1200.8" stroke="#000" stroke-width="4.4" fill="none" />
<path d="M637.4 760.8H961.6" stroke="#000" stroke-width="4.4" fill="none" />
<path d="M959.5 758.7V801.2M959.5 839V1200.8" stroke="#000" stroke-width="4.4" fill="none" />
<path d="M799.2 760.8V916.4" stroke="#000" stroke-width="4.4" fill="none" />
<path d="M639.5 881.4H684.3V914.4H915.3V881.4H959.5" stroke="#000" stroke-width="4.4" fill="none" />
<path d="M641.2 800L641.2 838.3" stroke="#777" stroke-width="0.9" fill="none" />
<path d="M957.9 801.2L957.9 839" stroke="#777" stroke-width="0.9" fill="none" />
<path d="M639.5 789.4H121V1272H339.4V1186H386.4V1198.7H641.6" stroke="#000" stroke-width="4.4" fill="none" />
<path d="M281.7 789L281.7 856.5" stroke="#000" stroke-width="2.3" fill="none" />
<path d="M281.7 917.5L281.7 1014.8" stroke="#000" stroke-width="2.3" fill="none" />
<path d="M123 925.4H150.1V984.4H282" stroke="#000" stroke-width="2.3" fill="none" />
<path d="M121 1014.1L282.8 1014.1" stroke="#000" stroke-width="2" fill="none" />
<path d="M324.8 1013.9L523 1013.9" stroke="#000" stroke-width="2.2" fill="none" />
<path d="M559.1 1013.9L638 1013.9" stroke="#000" stroke-width="2.2" fill="none" />
<path d="M436.5 1013.6L436.5 1079.8" stroke="#000" stroke-width="2.2" fill="none" />
<path d="M192 1078.7L252.4 1078.7" stroke="#000" stroke-width="2.2" fill="none" />
<path d="M290.2 1078.7L437.6 1078.7" stroke="#000" stroke-width="2.2" fill="none" />
<path d="M252.4 1078.7L290.2 1078.7" stroke="#666" stroke-width="0.9" fill="none" />
<path d="M436.5 1064.2L522.9 1064.2" stroke="#000" stroke-width="2" fill="none" />
<path d="M560.2 1064.2L638 1064.2" stroke="#000" stroke-width="2" fill="none" />
<path d="M349.5 1079.1L349.5 1186" stroke="#000" stroke-width="2" fill="none" />
<path d="M386.3 1079.1L386.3 1186" stroke="#000" stroke-width="2" fill="none" />
<path d="M121 1115.2L192.8 1115.2" stroke="#000" stroke-width="2.7" fill="none" />
<path d="M191.7 1013.8L191.7 1034.3" stroke="#000" stroke-width="1.8" fill="none" />
<path d="M191.8 1070.4L191.8 1116.6" stroke="#000" stroke-width="2" fill="none" />
<path d="M192.7 1034.3L192.7 1070.4" stroke="#888" stroke-width="0.8" fill="none" />
<path d="M640.6 800.6L601.4 800.6A39.20 37.40 0 0 0 640.60 838.00" stroke="#1a1a1a" stroke-width="1.65" fill="none"/>
<path d="M559.1 1013.9L559.1 974.7A36.10 39.20 0 0 0 523.00 1013.90" stroke="#1a1a1a" stroke-width="1.65" fill="none"/>
<path d="M559.1 1013.9L523.00 1013.90" stroke="#555" stroke-width="0.9" fill="none"/>
<path d="M191.6 1071.2L155.3 1071.2A36.30 36.90 0 0 1 191.60 1034.30" stroke="#1a1a1a" stroke-width="1.65" fill="none"/>
<path d="M290.2 1078.7L290.2 1115.2A37.60 36.50 0 0 1 252.60 1078.70" stroke="#1a1a1a" stroke-width="1.65" fill="none"/>
<path d="M560.2 1064.1L560.2 1098.5A37.30 34.40 0 0 1 522.90 1064.10" stroke="#1a1a1a" stroke-width="1.65" fill="none"/>
<path d="M78.1 1059H103" stroke="#000" stroke-width="4" fill="none" />
<path d="M100.3 1053.2L117 1059.1L100.3 1065.1Z" stroke="#000" stroke-width="0" fill="#000" />
<path d="M959.5 789.4H1478V1272H1262V1185.5H1212.3V1198.7H957.4" stroke="#000" stroke-width="4.4" fill="none" />
<path d="M1291 789L1291 867.7" stroke="#000" stroke-width="2.3" fill="none" />
<path d="M1291 925.4L1291 1014.8" stroke="#000" stroke-width="2.3" fill="none" />
<path d="M1476 875.7H1448.5V984.5H1380.4V1013.8" stroke="#000" stroke-width="2.3" fill="none" />
<path d="M1290 984.3H1334.7V1015.2" stroke="#000" stroke-width="2.6" fill="none" />
<path d="M961 1014.2L976 1014.2" stroke="#000" stroke-width="2.3" fill="none" />
<path d="M1013.3 1014.2L1295.4 1014.2" stroke="#000" stroke-width="2.3" fill="none" />
<path d="M1333.4 1014.2L1339.8 1014.2" stroke="#000" stroke-width="2.4" fill="none" />
<path d="M1376.7 1013.8L1476 1013.8" stroke="#000" stroke-width="2.3" fill="none" />
<path d="M1168.2 1013.8L1168.2 1073.6" stroke="#000" stroke-width="2.4" fill="none" />
<path d="M961 1065.4L976 1065.4" stroke="#000" stroke-width="2" fill="none" />
<path d="M1013.3 1065.4L1168.2 1065.4" stroke="#000" stroke-width="2" fill="none" />
<path d="M976 1065.4L1013.3 1065.4" stroke="#666" stroke-width="0.9" fill="none" />
<path d="M1168.2 1073L1352.6 1073" stroke="#000" stroke-width="2.3" fill="none" />
<path d="M1212.9 1072.6L1212.9 1185.5" stroke="#000" stroke-width="2" fill="none" />
<path d="M1261.6 1072.6L1261.6 1185.5" stroke="#000" stroke-width="2" fill="none" />
<path d="M1394.5 1013.8L1394.5 1022.2" stroke="#000" stroke-width="2.2" fill="none" />
<path d="M1394.5 1060.7L1394.5 1066" stroke="#000" stroke-width="2.2" fill="none" />
<path d="M1395 1071.8L1395 1126.8" stroke="#000" stroke-width="2" fill="none" />
<path d="M1394.1 1125.6L1476 1125.6" stroke="#000" stroke-width="2.5" fill="none" />
<rect x="1214.2" y="1010" width="36.4" height="7" rx="0" stroke="#000" stroke-width="1.7" fill="#fff"/>
<path d="M959 801.6L995.8 801.6A36.80 37.40 0 0 1 959.00 839.00" stroke="#1a1a1a" stroke-width="1.65" fill="none"/>
<path d="M976 1014.2L976 977.7A37.30 36.50 0 0 1 1013.30 1014.20" stroke="#1a1a1a" stroke-width="1.65" fill="none"/>
<path d="M976 1014.2L1013.30 1014.20" stroke="#555" stroke-width="0.9" fill="none"/>
<path d="M976 1065.4L976 1102.7A37.30 37.30 0 0 0 1013.30 1065.40" stroke="#1a1a1a" stroke-width="1.65" fill="none"/>
<path d="M1293.9 983.6L1293.9 946.1A37.00 37.50 0 0 1 1330.90 983.60" stroke="#1a1a1a" stroke-width="1.65" fill="none"/>
<path d="M1339 1014L1339 977A37.80 37.00 0 0 1 1376.80 1014.00" stroke="#1a1a1a" stroke-width="1.65" fill="none"/>
<path d="M1339 1014L1376.80 1014.00" stroke="#555" stroke-width="0.9" fill="none"/>
<path d="M1294.4 1014.4L1294.4 1051.3A37.00 36.90 0 0 0 1331.40 1014.40" stroke="#1a1a1a" stroke-width="1.65" fill="none"/>
<path d="M1394.5 1061.4L1432.2 1061.4A37.70 37.00 0 0 0 1394.50 1024.40" stroke="#1a1a1a" stroke-width="1.65" fill="none"/>
<path d="M1389 1072.7L1389 1108.4A37.20 35.70 0 0 1 1351.80 1072.70" stroke="#1a1a1a" stroke-width="1.7" fill="none"/>
<path d="M1388.2 1072.7L1396 1072.7" stroke="#000" stroke-width="2" fill="none" />
</g>
</svg>
</body></html>
